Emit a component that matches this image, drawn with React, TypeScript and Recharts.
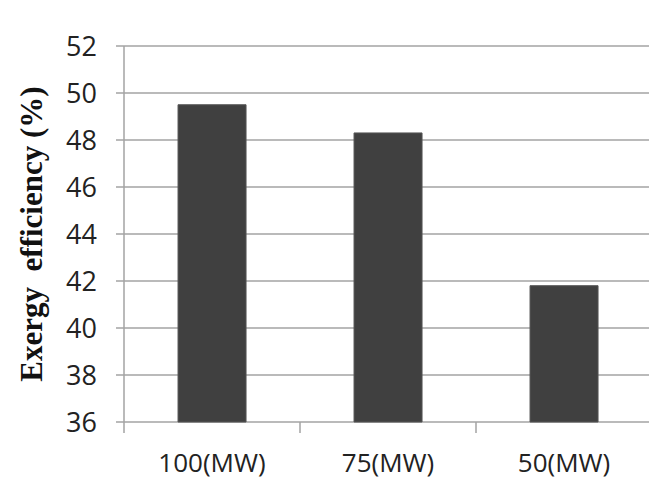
import React from 'react';
import { BarChart, Bar, XAxis, YAxis, CartesianGrid } from 'recharts';

const categories = ['100(MW)', '75(MW)', '50(MW)'];
const efficiency = [49.5, 48.3, 41.8];
const yTicks = [36, 38, 40, 42, 44, 46, 48, 50, 52];
const yLabel = 'Exergy  efficiency (%)';

const data = categories.map((name, i) => ({ name, value: efficiency[i] }));

const GRAY = '#a3a3a3';
const X_TICK_MARGIN = 32;
const X_TICK_LEN = 11;

const YLabel = (props: any) => {
  const vb = props.viewBox || { x: 0, y: 0, width: 0, height: 0 };
  const cx = vb.x + 42;
  const cy = vb.y + vb.height / 2;
  return (
    <text
      x={cx}
      y={cy}
      transform={`rotate(-90, ${cx}, ${cy})`}
      textAnchor="middle"
      fill="#111"
      style={{
        fontFamily: '"Liberation Serif", "Times New Roman", serif',
        fontWeight: 700,
        fontSize: 31,
        whiteSpace: 'pre',
      }}
    >
      {yLabel}
    </text>
  );
};

// Category tick: label at the band centre, tick mark at the band's left boundary
const CatTick = (props: any) => {
  const { x, y, payload } = props;
  const half = payload && payload.offset ? payload.offset : 0;
  const axisY = y - X_TICK_MARGIN;
  return (
    <g>
      <line
        x1={x - half}
        x2={x - half}
        y1={axisY}
        y2={axisY + X_TICK_LEN}
        stroke={GRAY}
        strokeWidth={1.5}
      />
      <text
        x={x}
        y={y}
        dy="0.71em"
        textAnchor="middle"
        fill="#222"
        style={{ fontSize: 26, fontFamily: '"Open Sans", sans-serif' }}
      >
        {payload.value}
      </text>
    </g>
  );
};

export default function App() {
  return (
    <div
      style={{
        position: 'absolute',
        left: 0,
        top: 0,
        width: 649,
        height: 481,
        overflow: 'hidden',
        background: '#fff',
      }}
    >
      <BarChart
        width={660}
        height={481}
        data={data}
        margin={{ top: 46, right: 8, bottom: 0, left: 0 }}
        barCategoryGap="30.7%"
      >
        <CartesianGrid vertical={false} stroke={GRAY} strokeWidth={1.5} />
        <XAxis
          dataKey="name"
          tickLine={false}
          tickSize={0}
          tickMargin={X_TICK_MARGIN}
          axisLine={false}
          height={59}
          interval={0}
          tick={<CatTick />}
        />
        <YAxis
          domain={[36, 52]}
          ticks={yTicks}
          interval={0}
          width={124}
          tickSize={8}
          tickMargin={19}
          tickLine={{ stroke: GRAY, strokeWidth: 1.5 }}
          axisLine={{ stroke: GRAY, strokeWidth: 1.5 }}
          tick={{
            fill: '#222',
            fontSize: 27,
            fontFamily: '"Open Sans", sans-serif',
          }}
          label={<YLabel />}
        />
        <Bar
          dataKey="value"
          fill="#404040"
          stroke="#555"
          strokeWidth={1}
          isAnimationActive={false}
        />
      </BarChart>
    </div>
  );
}
